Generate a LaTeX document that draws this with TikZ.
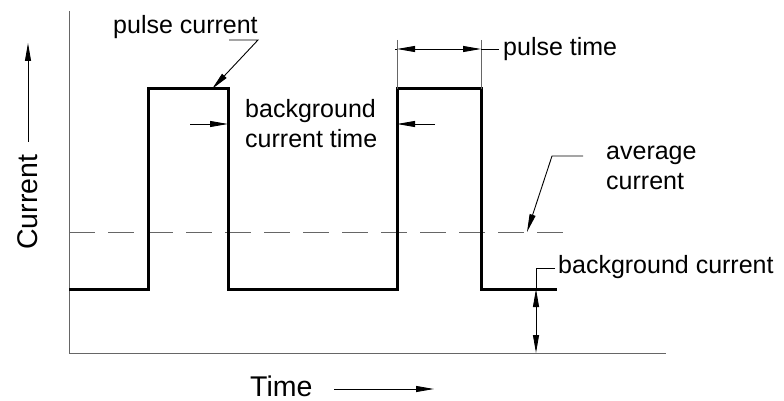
\documentclass[tikz,border=0pt]{standalone}
\usepackage{fontspec}
\setmainfont{Liberation Sans}
\usetikzlibrary{arrows.meta}
\begin{document}
\begin{tikzpicture}[x=1pt,y=-1pt,
  axisline/.style={draw=black!60,line width=1pt},
  extline/.style={draw=black!60,line width=0.9pt},
  wave/.style={draw=black,line width=3pt,line join=miter},
  leader/.style={draw=black,line width=0.9pt},
  tip/.style={-{Triangle[length=18pt,width=6pt]}},
  dtip/.style={{Triangle[length=18pt,width=6pt]}-{Triangle[length=18pt,width=6pt]}},
  small/.style={inner sep=0pt,anchor=base west,font=\fontsize{25}{29}\selectfont},
  big/.style={inner sep=0pt,anchor=base west,font=\fontsize{28.5}{33}\selectfont}]
\useasboundingbox (0,0) rectangle (784,401);
% key points
\coordinate (o) at (69,353);
\coordinate (ytop) at (69,11);
\coordinate (xend) at (666,353);
\coordinate (w0) at (69,289);
\coordinate (w1) at (148,289);
\coordinate (w2) at (148,89);
\coordinate (w3) at (228,89);
\coordinate (w4) at (228,289);
\coordinate (w5) at (397,289);
\coordinate (w6) at (397,89);
\coordinate (w7) at (481,89);
\coordinate (w8) at (481,289);
\coordinate (w9) at (557,289);
% axes
\draw[axisline] (ytop) -- (o) -- (xend);
% average line
\coordinate (a0) at (69,232);
\coordinate (a1) at (569,232);
\draw[draw=black!60,line width=1pt,dash pattern=on 26pt off 13pt] (a0) -- (a1);
% waveform
\draw[wave] (w0) -- (w1) -- (w2) -- (w3) -- (w4) -- (w5) -- (w6) -- (w7) -- (w8) -- (w9);
% labels
\node[small] (pc) at (113,34) {pulse current};
\node[small] (bg1) at (245,118) {background};
\node[small] (bg2) at (245,147) {current time};
\node[small] (pt) at (503,56) {pulse time};
\node[small] (av1) at (606,160) {average};
\node[small] (av2) at (606,189) {current};
\node[small] (bc) at (558,273) {background current};
\node[big] (time) at (250,396) {Time};
\node[big,rotate=90] (cur) at (37,250) {Current};
% pulse current leader
\coordinate (pc1) at (229,40);
\coordinate (pc2) at (258,40);
\coordinate (pctip) at (212,89);
\draw[leader,tip] (pc1) -- (pc2) -- (pctip);
% background current time arrows
\coordinate (bl0) at (190,124);
\coordinate (bl1) at (228,124);
\coordinate (br0) at (435,124);
\coordinate (br1) at (397,124);
\draw[leader,tip] (bl0) -- (bl1);
\draw[leader,tip] (br0) -- (br1);
% pulse time dimension
\coordinate (e1t) at (397,40);
\coordinate (e2t) at (481,40);
\coordinate (d1) at (397,49);
\coordinate (d2) at (481,49);
\coordinate (d0) at (395,49);
\coordinate (d3) at (499,49);
\draw[extline] (e1t) -- (w6);
\draw[extline] (e2t) -- (w7);
\draw[leader] (d0) -- (d1);
\draw[leader,dtip] (d1) -- (d2);
\draw[leader] (d2) -- (d3);
% average current leader
\coordinate (ac1) at (583,156);
\coordinate (ac2) at (552,156);
\coordinate (actip) at (527,232);
\draw[leader,tip] (ac1) -- (ac2) -- (actip);
% background current leader and dimension
\coordinate (bc1) at (555,268);
\coordinate (bc2) at (536,268);
\coordinate (bc3) at (536,289);
\coordinate (bc4) at (536,353);
\draw[leader] (bc1) -- (bc2) -- (bc3);
\draw[leader,dtip] (bc3) -- (bc4);
% axis direction arrows
\coordinate (ca0) at (28,142);
\coordinate (ca1) at (28,43);
\draw[leader,tip] (ca0) -- (ca1);
\coordinate (ta0) at (334,389);
\coordinate (ta1) at (434,389);
\draw[leader,tip] (ta0) -- (ta1);
\end{tikzpicture}
\end{document}
